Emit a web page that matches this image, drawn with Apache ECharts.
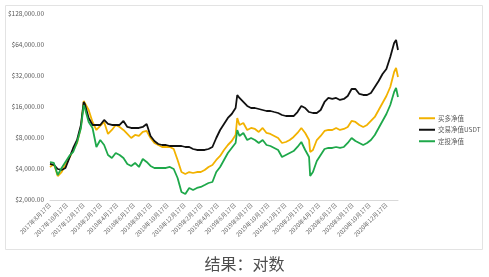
<!DOCTYPE html>
<html>
<head>
<meta charset="utf-8">
<script src="https://cdn.jsdelivr.net/npm/echarts@6/dist/echarts.min.js"></script>
<style>
html,body{margin:0;padding:0;background:#fff;}
#c{width:489px;height:277px;}
</style>
</head>
<body>
<div id="c"></div>
<script>
// ---- data ----
const seriesNames = ['买多净值', '交易净值USDT', '定投净值'];
const yTickValues = [2000, 4000, 8000, 16000, 32000, 64000, 128000];
const axisStart = '2017-08-17';
const axisEnd = '2021-01-28';

const sampleDates = [
'2017-08-17','2017-08-31','2017-09-14','2017-09-28','2017-10-12','2017-10-26','2017-11-09','2017-11-23','2017-12-07','2017-12-17',
'2017-12-21','2018-01-04','2018-01-18','2018-02-01','2018-02-15','2018-03-01','2018-03-15','2018-03-29','2018-04-12','2018-04-26',
'2018-05-10','2018-05-24','2018-06-07','2018-06-21','2018-07-05','2018-07-19','2018-08-02','2018-08-16','2018-08-30','2018-09-13',
'2018-09-27','2018-10-11','2018-10-25','2018-11-08','2018-11-22','2018-12-06','2018-12-20','2019-01-03','2019-01-17','2019-01-31',
'2019-02-14','2019-02-28','2019-03-14','2019-03-28','2019-04-11','2019-04-25','2019-05-09','2019-05-23','2019-06-06','2019-06-20',
'2019-06-26','2019-07-04','2019-07-18','2019-08-01','2019-08-15','2019-08-29','2019-09-12','2019-09-26','2019-10-10','2019-10-24',
'2019-11-07','2019-11-21','2019-12-05','2019-12-19','2020-01-02','2020-01-16','2020-01-30','2020-02-13','2020-02-27','2020-03-12',
'2020-03-16','2020-03-26','2020-04-09','2020-04-23','2020-05-07','2020-05-21','2020-06-04','2020-06-18','2020-07-02','2020-07-16',
'2020-07-30','2020-08-13','2020-08-27','2020-09-10','2020-09-24','2020-10-08','2020-10-22','2020-11-05','2020-11-19','2020-12-03',
'2020-12-17','2020-12-31','2021-01-14','2021-01-21','2021-01-28'
];

const longValues = [
4184,4474,3420,3740,4375,5116,6118,7154,10232,18301,
17501,14962,11442,9568,10464,11442,8750,9568,10701,10232,
9568,8750,8000,8557,8368,9150,9357,8000,7154,6841,
6542,6542,6542,6256,4893,3740,3577,3740,3658,3740,
3740,3912,4184,4375,4893,5350,6118,6841,7481,8557,
12512,10701,11189,9568,10006,9786,9150,10006,8949,8750,
8368,8000,7154,7316,7650,8182,8949,10006,8949,7650,
5850,6118,7650,8368,9357,9568,9568,10006,9568,9786,
10232,11701,11442,10701,10232,10701,11701,12795,14962,17501,
20464,25024,35002,38272,31293
];

const usdtValues = [
4474,4375,4000,3912,4091,5116,6398,7650,10701,17898,
17114,12512,10701,10701,10701,11965,10942,10701,10701,10701,
11701,10232,10006,10006,10006,10232,10942,8368,7481,6996,
6841,6841,6690,6690,6690,6690,6542,6542,6256,6118,
6118,6118,6256,6542,8000,9568,10942,12512,13682,15646,
20928,19571,17898,16365,15646,15646,15301,14962,14632,14632,
14307,13992,13379,13083,13083,13083,14307,16365,15646,14307,
13992,13992,13992,14962,17898,19571,19136,19571,18714,19136,
20464,23930,23930,21402,20928,20928,21885,25024,28614,33472,
37427,48941,66944,71590,57229
];

const dcaValues = [
4678,4575,3498,4091,4678,5350,5850,7316,10006,16736,
15646,11442,10006,6542,7650,6841,5471,5116,5721,5471,
5116,4474,4278,4575,4184,5003,4678,4278,4091,4091,
4091,4091,4184,4000,3271,2392,2288,2616,2502,2616,
2675,2797,2925,2991,3740,4184,4893,5721,6398,7154,
9568,8368,8949,7650,8000,7650,7154,7650,6841,6690,
6398,6118,5232,5471,5721,5982,6542,7316,6118,5232,
3420,3740,4784,5471,6256,6398,6398,6542,6398,6542,
7154,8000,7481,7154,6841,7154,7650,8557,10006,11701,
13682,16736,22378,24470,20013
];

// ---- build daily category axis ----
function pad(n){return n<10?'0'+n:''+n;}
const categories = [];
(function(){
  const s = new Date(axisStart+'T00:00:00Z').getTime();
  const e = new Date(axisEnd+'T00:00:00Z').getTime();
  for (let t = s; t <= e; t += 86400000) {
    const d = new Date(t);
    categories.push(d.getUTCFullYear()+'-'+pad(d.getUTCMonth()+1)+'-'+pad(d.getUTCDate()));
  }
})();

function pairs(vals){ return sampleDates.map((d,i)=>[d, vals[i]]); }

const colors = ['#F2B200', '#111111', '#1EA84A'];
const font = '"Noto Sans CJK SC", "Noto Sans", sans-serif';

const chart = echarts.init(document.getElementById('c'), null, {renderer:'canvas'});
chart.setOption({
  animation: false,
  backgroundColor: '#ffffff',
  textStyle: {fontFamily: font},
  title: {
    text: '结果：对数',
    left: 'center',
    top: 251,
    textStyle: {fontSize: 16, fontWeight: 'normal', color: '#4d4d4d', fontFamily: font}
  },
  graphic: [{
    type: 'rect',
    shape: {x: 5.5, y: 5.5, width: 477, height: 244},
    style: {fill: 'none', stroke: '#e3e3e3', lineWidth: 1},
    silent: true
  }],
  legend: {
    orient: 'vertical',
    left: 414,
    top: 110,
    itemWidth: 16,
    itemHeight: 2,
    itemGap: 5,
    icon: 'rect',
    data: seriesNames,
    textStyle: {fontSize: 6.5, color: '#595959', fontFamily: font, padding: [0,0,0,-2]}
  },
  grid: {left: 50, right: 91, top: 14, bottom: 77, containLabel: false},
  xAxis: {
    type: 'category',
    data: categories,
    boundaryGap: false,
    axisLine: {show: true, lineStyle: {color: '#d9d9d9', width: 1}},
    axisTick: {show: false},
    splitLine: {show: false},
    axisLabel: {
      rotate: 45,
      fontSize: 6,
      color: '#6a6a6a',
      margin: 4,
      interval: function(idx, val){
        const p = val.split('-');
        const m = parseInt(p[1],10), d = parseInt(p[2],10);
        return d === 17 && m % 2 === 0 && val <= '2020-12-17';
      },
      formatter: function(val){
        const p = val.split('-');
        return parseInt(p[0],10)+'年'+parseInt(p[1],10)+'月'+parseInt(p[2],10)+'日';
      }
    }
  },
  yAxis: {
    type: 'log',
    logBase: 2,
    min: 2000,
    max: 128000,
    axisLine: {show: false},
    axisTick: {show: false},
    splitLine: {show: false},
    axisLabel: {
      customValues: yTickValues,
      fontSize: 6.5,
      color: '#595959',
      margin: 6,
      formatter: function(v){
        const r = Math.round(v);
        return '$' + r.toLocaleString('en-US') + '.00';
      }
    }
  },
  series: [
    {name: seriesNames[0], type: 'line', data: pairs(longValues), showSymbol: false,
     lineStyle: {width: 1.8, color: colors[0]}, itemStyle: {color: colors[0]}},
    {name: seriesNames[1], type: 'line', data: pairs(usdtValues), showSymbol: false,
     lineStyle: {width: 1.8, color: colors[1]}, itemStyle: {color: colors[1]}},
    {name: seriesNames[2], type: 'line', data: pairs(dcaValues), showSymbol: false,
     lineStyle: {width: 1.8, color: colors[2]}, itemStyle: {color: colors[2]}}
  ]
});
</script>
</body>
</html>
